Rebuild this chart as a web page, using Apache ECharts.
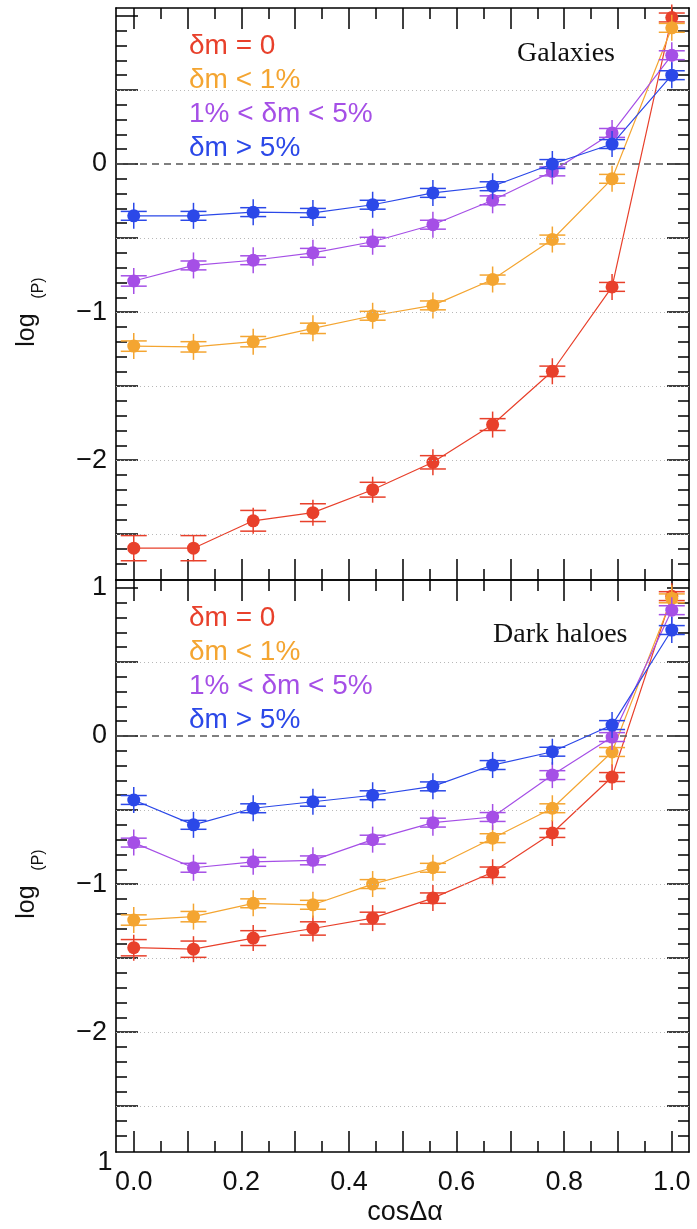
<!DOCTYPE html>
<html>
<head>
<meta charset="utf-8">
<script src="https://cdn.jsdelivr.net/npm/echarts@6/dist/echarts.min.js"></script>
<style>
  html, body { margin: 0; padding: 0; background: #fff; }
  #chart { width: 697px; height: 1229px; }
</style>
</head>
<body>
<div id="chart"></div>
<script>
// ---------------- DATA ----------------
const cosBins = [0, 0.111, 0.222, 0.333, 0.444, 0.556, 0.667, 0.778, 0.889, 1.0];
const seriesNames = ['δm = 0', 'δm < 1%', '1% < δm < 5%', 'δm > 5%'];

// Galaxies (top panel), log(P)
const galRed    = [-2.595, -2.595, -2.41, -2.355, -2.2, -2.015, -1.76, -1.4, -0.83, 0.99];
const galOrange = [-1.23, -1.235, -1.2, -1.11, -1.025, -0.955, -0.78, -0.51, -0.1, 0.92];
const galPurple = [-0.79, -0.685, -0.65, -0.6, -0.525, -0.41, -0.245, -0.05, 0.21, 0.735];
const galBlue   = [-0.35, -0.35, -0.325, -0.33, -0.275, -0.195, -0.15, 0.0, 0.135, 0.6];
const galRedErr    = [0.085, 0.085, 0.07, 0.06, 0.05, 0.045, 0.04, 0.035, 0.03, 0.03];
const galOrangeErr = [0.035, 0.035, 0.035, 0.035, 0.03, 0.03, 0.03, 0.03, 0.03, 0.03];
const galPurpleErr = [0.035, 0.03, 0.03, 0.03, 0.03, 0.03, 0.03, 0.03, 0.03, 0.03];
const galBlueErr   = [0.03, 0.03, 0.03, 0.03, 0.03, 0.03, 0.03, 0.03, 0.03, 0.03];

// Dark haloes (bottom panel), log(P)
const haloRed    = [-1.43, -1.44, -1.365, -1.30, -1.23, -1.095, -0.92, -0.655, -0.277, 0.945];
const haloOrange = [-1.243, -1.22, -1.13, -1.14, -1.0, -0.89, -0.69, -0.488, -0.108, 0.93];
const haloPurple = [-0.72, -0.89, -0.85, -0.84, -0.70, -0.585, -0.547, -0.264, -0.007, 0.85];
const haloBlue   = [-0.432, -0.60, -0.488, -0.444, -0.40, -0.34, -0.196, -0.106, 0.074, 0.716];
const haloRedErr    = [0.055, 0.055, 0.05, 0.045, 0.04, 0.035, 0.035, 0.03, 0.03, 0.03];
const haloOrangeErr = [0.035, 0.035, 0.03, 0.03, 0.03, 0.03, 0.03, 0.03, 0.03, 0.03];
const haloPurpleErr = [0.03, 0.03, 0.03, 0.03, 0.03, 0.03, 0.03, 0.03, 0.03, 0.03];
const haloBlueErr   = [0.03, 0.03, 0.03, 0.03, 0.03, 0.03, 0.03, 0.03, 0.03, 0.03];

// Ticks / labels
const xMajorTicks = [0, 0.1, 0.2, 0.3, 0.4, 0.5, 0.6, 0.7, 0.8, 0.9, 1.0];
const xMinorTicks = [0.05, 0.15, 0.25, 0.35, 0.45, 0.55, 0.65, 0.75, 0.85, 0.95];
const xTickLabels = [0, 0.2, 0.4, 0.6, 0.8, 1.0];
const yMajorTicks = [-2.5, -2, -1.5, -1, -0.5, 0, 0.5, 1];
const yTopLabels = [-2, -1, 0];
const yBottomLabels = [-2, -1, 0, 1];
const yGridDotted = [-2.5, -2, -1.5, -1, -0.5, 0.5];
const yMinorTicks = [];
for (let k = -27; k <= 10; k++) yMinorTicks.push(Math.round(k) / 10);

// ---------------- STYLE ----------------
const COLORS = ['#e8402b', '#f4a531', '#a54fe6', '#2b48e8'];
const SANS = "'Liberation Sans', Arial, Helvetica, sans-serif";
const SERIF = "'Liberation Serif', 'Times New Roman', serif";
const X_MIN = -0.033, X_MAX = 1.032;
const Y_MIN = -2.81, Y_MAX = 1.054;
const GRID_L = 116, GRID_W = 573, GRID_H = 572;
const panelTops = [8, 580];

const chart = echarts.init(document.getElementById('chart'), null, { renderer: 'canvas' });

const grids = panelTops.map(t => ({ left: GRID_L, top: t, width: GRID_W, height: GRID_H, containLabel: false }));

const xAxes = [], yAxes = [];
function fmtY(v) { return v < 0 ? '\u2212' + Math.abs(v) : String(v); }

for (let g = 0; g < 2; g++) {
  [['bottom', true], ['bottom', false], ['top', true], ['top', false]].forEach(([pos, major]) => {
    const showLabels = (g === 1 && pos === 'bottom' && major);
    xAxes.push({
      type: 'value', gridIndex: g, position: pos, min: X_MIN, max: X_MAX,
      axisLine: { show: major, onZero: false, lineStyle: { color: '#000', width: 1.6 } },
      axisTick: { show: true, inside: true, length: major ? 21 : 11,
                  customValues: major ? xMajorTicks : xMinorTicks,
                  lineStyle: { color: '#000', width: 1.5 } },
      axisLabel: showLabels ? {
        show: true, customValues: xTickLabels, color: '#111', fontSize: 27, fontFamily: SANS, margin: 17,
        formatter: v => Number(v).toFixed(1)
      } : { show: false },
      splitLine: { show: false }
    });
  });
  [['left', true], ['left', false], ['right', true], ['right', false]].forEach(([pos, major]) => {
    const showLabels = (pos === 'left' && major);
    yAxes.push({
      type: 'value', gridIndex: g, position: pos, min: Y_MIN, max: Y_MAX,
      axisLine: { show: major, onZero: false, lineStyle: { color: '#000', width: 1.6 } },
      axisTick: { show: true, inside: true, length: major ? 22 : 11,
                  customValues: major ? yMajorTicks : yMinorTicks,
                  lineStyle: { color: '#000', width: 1.5 } },
      axisLabel: showLabels ? {
        show: true, customValues: g === 0 ? yTopLabels : yBottomLabels,
        color: '#111', fontSize: 27, fontFamily: SANS, margin: 9, formatter: fmtY
      } : { show: false },
      splitLine: { show: false }
    });
  });
}

function errRender(color) {
  return function (params, api) {
    const x = api.value(0), y = api.value(1), e = api.value(2);
    const c = api.coord([x, y]);
    const up = api.coord([x, y + e])[1];
    const dn = api.coord([x, y - e])[1];
    const half = 13;
    const top = Math.min(up, c[1] - half), bot = Math.max(dn, c[1] + half);
    const style = { stroke: color, lineWidth: 1.5, fill: null };
    return {
      type: 'group',
      children: [
        { type: 'line', shape: { x1: c[0], y1: top, x2: c[0], y2: bot }, style },
        { type: 'line', shape: { x1: c[0] - half, y1: up, x2: c[0] + half, y2: up }, style },
        { type: 'line', shape: { x1: c[0] - half, y1: dn, x2: c[0] + half, y2: dn }, style }
      ]
    };
  };
}

const panels = [
  { vals: [galRed, galOrange, galPurple, galBlue], errs: [galRedErr, galOrangeErr, galPurpleErr, galBlueErr] },
  { vals: [haloRed, haloOrange, haloPurple, haloBlue], errs: [haloRedErr, haloOrangeErr, haloPurpleErr, haloBlueErr] }
];

const series = [];
panels.forEach((p, g) => {
  const xi = g * 4, yi = g * 4;
  series.push({
    type: 'line', xAxisIndex: xi, yAxisIndex: yi, data: [], silent: true,
    markLine: {
      silent: true, symbol: 'none', label: { show: false }, animation: false,
      data: yGridDotted.map(v => ({ yAxis: v, lineStyle: { color: '#b8b8b8', width: 1, type: [1, 3] } }))
        .concat([{ yAxis: 0, lineStyle: { color: '#555', width: 1.5, type: [7, 5] } }])
    }
  });
  p.vals.forEach((vals, s) => {
    series.push({
      name: seriesNames[s], type: 'line', xAxisIndex: xi, yAxisIndex: yi,
      data: cosBins.map((x, i) => [x, vals[i]]),
      symbol: 'circle', symbolSize: 13, showSymbol: true,
      lineStyle: { color: COLORS[s], width: 1.2 },
      itemStyle: { color: COLORS[s] },
      z: 3 + s, animation: false
    });
    series.push({
      type: 'custom', xAxisIndex: xi, yAxisIndex: yi,
      data: cosBins.map((x, i) => [x, vals[i], p.errs[s][i]]),
      encode: { x: 0, y: 1 },
      renderItem: errRender(COLORS[s]),
      z: 3 + s, animation: false, silent: true
    });
  });
});

const graphics = [];
panelTops.forEach((t, g) => {
  const off = t - 8;
  seriesNames.forEach((name, s) => {
    graphics.push({
      type: 'text', left: 189, top: off + [32, 66, 100, 134][s],
      style: { text: name, fill: COLORS[s], fontSize: 28, fontFamily: SANS }
    });
  });
  graphics.push({
    type: 'text', x: g === 0 ? 517 : 493, y: off + (g === 0 ? 54 : 63),
    style: { text: g === 0 ? 'Galaxies' : 'Dark haloes', fill: '#111', fontSize: 28, fontFamily: SERIF,
             align: 'left', verticalAlign: 'middle' }
  });
  graphics.push({
    type: 'text', x: 27, y: off + 330, rotation: Math.PI / 2,
    style: { text: 'log', fill: '#111', fontSize: 25, fontFamily: SANS, align: 'center', verticalAlign: 'middle' }
  });
  graphics.push({
    type: 'text', x: 39, y: off + 288, rotation: Math.PI / 2,
    style: { text: '(P)', fill: '#111', fontSize: 16, fontFamily: SANS, align: 'center', verticalAlign: 'middle' }
  });
});
graphics.push({
  type: 'text', x: 405, y: 1213,
  style: { text: 'cosΔα', fill: '#111', fontSize: 27, fontFamily: SANS, align: 'center', verticalAlign: 'middle' }
});
graphics.push({
  type: 'text', x: 105, y: 1163,
  style: { text: '1', fill: '#111', fontSize: 27, fontFamily: SANS, align: 'center', verticalAlign: 'middle' }
});

chart.setOption({
  backgroundColor: '#fff',
  animation: false,
  grid: grids,
  xAxis: xAxes,
  yAxis: yAxes,
  series: series,
  graphic: graphics
});
</script>
</body>
</html>
